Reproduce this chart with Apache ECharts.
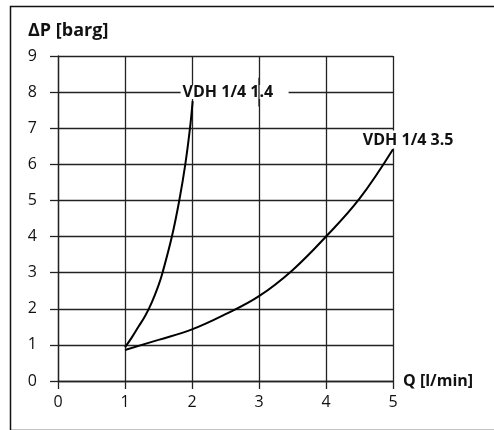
<!DOCTYPE html>
<html>
<head>
<meta charset="utf-8">
<script src="https://cdn.jsdelivr.net/npm/echarts@6/dist/echarts.min.js"></script>
<style>
html,body{margin:0;padding:0;background:#fff;}
#chart{width:494px;height:430px;}
</style>
</head>
<body>
<div id="chart"></div>
<script>
// ---- data ----
const xTicks = [0, 1, 2, 3, 4, 5];
const yTicks = [0, 1, 2, 3, 4, 5, 6, 7, 8, 9];
const seriesNames = ['VDH 1/4 1.4', 'VDH 1/4 3.5'];
const q14 = [1.0, 1.1, 1.2, 1.3, 1.4, 1.5, 1.56, 1.70, 1.81, 1.90, 1.97, 2.01];
const p14 = [0.93, 1.2, 1.5, 1.8, 2.18, 2.65, 3.0, 4.0, 5.0, 6.0, 7.0, 7.75];
const q35 = [1.0, 1.5, 2.0, 2.5, 3.0, 3.5, 4.0, 4.5, 5.0];
const p35 = [0.86, 1.14, 1.43, 1.85, 2.35, 3.07, 4.0, 5.05, 6.42];
const xName = 'Q [l/min]';
const yName = 'ΔP [barg]';
// label anchors (data coordinates)
const labelAnchor14 = [1.86, 8];
const labelAnchor35 = [4.55, 6.66];

const FONT = '"Open Sans", "Noto Sans", sans-serif';
const chart = echarts.init(document.getElementById('chart'), null, {renderer: 'canvas'});

function zip(a, b) { return a.map((v, i) => [v, b[i]]); }

const gridColor = '#222';
const option = {
  animation: false,
  backgroundColor: '#fff',
  grid: {left: 58, top: 56, width: 335, height: 325, containLabel: false},
  xAxis: {
    type: 'value', min: xTicks[0], max: xTicks[xTicks.length - 1], interval: 1,
    name: xName, nameLocation: 'end', nameGap: 10,
    nameTextStyle: {fontFamily: FONT, fontSize: 16, fontWeight: 'bold', color: '#111', padding: [0, 0, 6, 0]},
    axisLine: {show: true, lineStyle: {color: gridColor, width: 1.3}},
    axisTick: {show: true, inside: false, length: 8, lineStyle: {color: gridColor, width: 1.3}},
    axisLabel: {fontFamily: FONT, fontSize: 16, color: '#111', margin: 13},
    splitLine: {show: true, lineStyle: {color: gridColor, width: 1.3}}
  },
  yAxis: {
    type: 'value', min: yTicks[0], max: yTicks[yTicks.length - 1], interval: 1,
    axisLine: {show: true, lineStyle: {color: gridColor, width: 1.3}},
    axisTick: {show: true, inside: false, length: 8, lineStyle: {color: gridColor, width: 1.3}},
    axisLabel: {fontFamily: FONT, fontSize: 16, color: '#111', margin: 21},
    splitLine: {show: true, lineStyle: {color: gridColor, width: 1.3}}
  },
  series: [
    {name: seriesNames[0], type: 'line', data: zip(q14, p14), smooth: 0.4, symbol: 'none',
     lineStyle: {color: '#000', width: 2}, z: 5},
    {name: seriesNames[1], type: 'line', data: zip(q35, p35), smooth: 0.4, symbol: 'none',
     lineStyle: {color: '#000', width: 2}, z: 5}
  ]
};
chart.setOption(option);

const p1 = chart.convertToPixel({gridIndex: 0}, labelAnchor14);
const p2 = chart.convertToPixel({gridIndex: 0}, labelAnchor35);
const x3top = chart.convertToPixel({gridIndex: 0}, [3, 8.4]);
const x3bot = chart.convertToPixel({gridIndex: 0}, [3, 7.6]);
const labelStyle = {fontFamily: FONT, fontSize: 16, fontWeight: 'bold', fill: '#111', align: 'left', verticalAlign: 'middle'};

chart.setOption({
  graphic: [
    {type: 'rect', left: 8, top: 4, z: 200, silent: true,
     shape: {width: 500, height: 424},
     style: {fill: 'none', stroke: '#111', lineWidth: 1.5}},
    {type: 'text', z: 102, silent: true, x: 28, y: 31,
     style: Object.assign({}, labelStyle, {text: yName, fontSize: 18})},
    // label 1.4 with white background
    {type: 'rect', z: 100, silent: true,
     shape: {x: p1[0] - 2, y: p1[1] - 7, width: 108, height: 14},
     style: {fill: '#fff'}},
    {type: 'line', z: 101, silent: true,
     shape: {x1: x3top[0], y1: x3top[1], x2: x3bot[0], y2: x3bot[1]},
     style: {stroke: gridColor, lineWidth: 1.3}},
    {type: 'text', z: 102, silent: true, x: p1[0], y: p1[1],
     style: Object.assign({}, labelStyle, {text: seriesNames[0]})},
    // label 3.5
    {type: 'rect', z: 100, silent: true,
     shape: {x: p2[0] - 2, y: p2[1] - 10, width: 98, height: 18},
     style: {fill: '#fff'}},
    {type: 'text', z: 102, silent: true, x: p2[0], y: p2[1],
     style: Object.assign({}, labelStyle, {text: seriesNames[1]})}
  ]
});
</script>
</body>
</html>
